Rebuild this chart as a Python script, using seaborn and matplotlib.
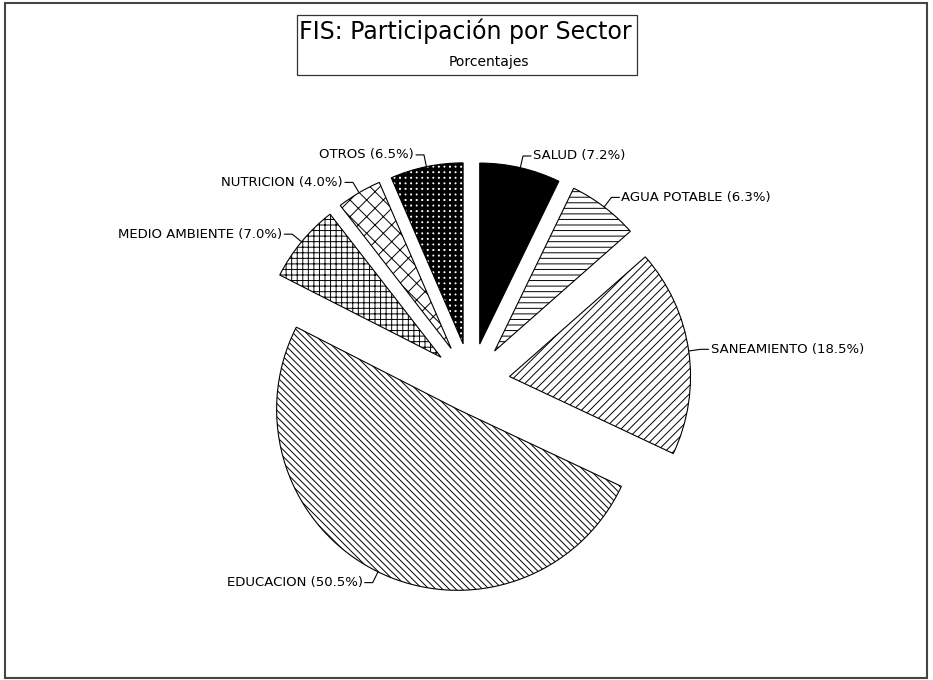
import numpy as np
import matplotlib
matplotlib.use("Agg")
import matplotlib.pyplot as plt
import seaborn as sns
from matplotlib.patches import Rectangle

# Datos del grafico (participacion por sector, en %)
sectores = ['SALUD', 'AGUA POTABLE', 'SANEAMIENTO', 'EDUCACION',
            'MEDIO AMBIENTE', 'NUTRICION', 'OTROS']
porcentajes = [7.2, 6.3, 18.5, 50.5, 7.0, 4.0, 6.5]

# estilo de cada sector (blanco y negro con tramas)
separacion = [0.215, 0.215, 0.215, 0.168, 0.215, 0.215, 0.215]
tramas = ['', '---', '////', '\\\\\\\\\\', '+++', 'xx', '+++']
colores = ['black', 'white', 'white', 'white', 'white', 'white', 'white']

sns.set_theme(style='white')
plt.rcParams['font.family'] = ['DejaVu Sans']
plt.rcParams['text.color'] = 'black'
plt.rcParams['hatch.linewidth'] = 0.7

W, H = 933, 680
fig = plt.figure(figsize=(W / 100, H / 100), dpi=100)
ax = fig.add_axes([0, 0, 1, 1])

radio = 181
centro = (471, 298)
wedges, _ = ax.pie(porcentajes, explode=[s * radio for s in separacion],
                   startangle=90, counterclock=False, center=centro,
                   radius=radio, colors=colores, hatch=tramas,
                   labeldistance=None,
                   wedgeprops=dict(edgecolor='black', linewidth=0.8))

# OTROS: trama de rejilla gruesa (negro con puntos blancos)
if hasattr(wedges[6], 'set_hatch_linewidth'):
    wedges[6].set_hatch_linewidth(2.6)

ax.set_xlim(0, W)
ax.set_ylim(0, H)
ax.set_aspect('equal')
ax.axis('off')

# etiquetas con lineas guia
for w, nombre, p in zip(wedges, sectores, porcentajes):
    ang = np.deg2rad((w.theta1 + w.theta2) / 2)
    cx, cy = w.center
    c, s = np.cos(ang), np.sin(ang)
    x0, y0 = cx + w.r * c, cy + w.r * s
    x1, y1 = cx + (w.r + 12) * c, cy + (w.r + 12) * s
    lado = 1 if c >= 0 else -1
    ax.plot([x0, x1, x1 + 8 * lado], [y0, y1, y1], color='black', lw=0.8)
    ax.text(x1 + 10 * lado, y1, f'{nombre} ({p:.1f}%)', color='black',
            ha='left' if lado > 0 else 'right', va='center', fontsize=9.5)

# titulo en recuadro
ax.add_patch(Rectangle((297, 605), 340, 60, fill=False, edgecolor='#333333', lw=0.9))
ax.text(465, 641, 'FIS: Participación por Sector', color='black',
        ha='center', va='baseline', fontsize=17)
ax.text(489, 614, 'Porcentajes', color='black', ha='center', va='baseline', fontsize=10)

# marco exterior
ax.add_patch(Rectangle((5, 2), 922, 675, fill=False, edgecolor='#444444', lw=1.5))

fig.savefig('out.png', dpi=100)
